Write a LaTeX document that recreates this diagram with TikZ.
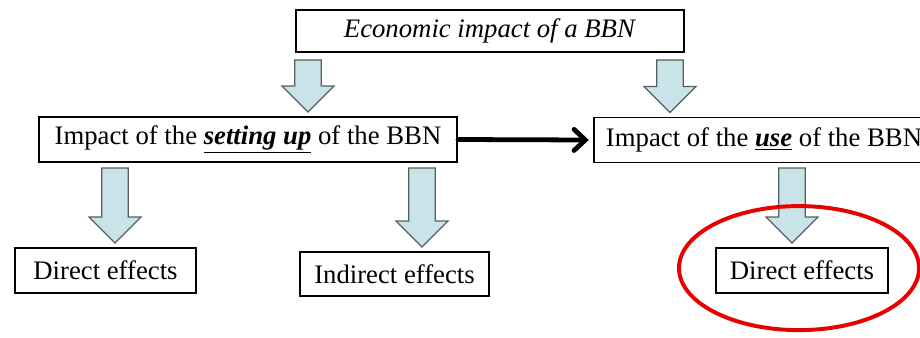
\documentclass[tikz,border=0pt]{standalone}
\usepackage{fontspec}
\setmainfont{Liberation Serif}
\usepackage{tikz}
\usetikzlibrary{calc,arrows.meta}

\tikzset{
  box/.style={draw,line width=1.4pt,fill=white,inner sep=0pt,
    font=\fontsize{19}{22}\selectfont},
  blockarrow/.style={draw=arrowline,line width=0.8pt,fill=arrowfill,
    to path={let \p1=(\tikztostart),\p2=(\tikztotarget) in
      (\x1-0.33cm,\y1) -- (\x1+0.33cm,\y1) -- (\x1+0.33cm,\y2+0.75cm)
      -- (\x1+0.65cm,\y2+0.75cm) -- (\x1,\y2+0.1cm) -- (\x1-0.65cm,\y2+0.75cm)
      -- (\x1-0.33cm,\y2+0.75cm) -- cycle}},
  leadsto/.style={line width=3.4pt,line cap=round,
    -{Straight Barb[length=8pt,width=15pt,line cap=round]}},
  highlight/.style={draw=ringred,line width=2.8pt}
}

\begin{document}
\begin{tikzpicture}[x=0.025cm,y=-0.025cm]
\definecolor{arrowfill}{RGB}{200,228,232}
\definecolor{arrowline}{RGB}{85,95,95}
\definecolor{ringred}{RGB}{232,0,0}
%
\useasboundingbox (0,0) rectangle (920,337);
\clip (0,0) rectangle (920,337);
%
\node[box,minimum width=388*0.025cm,minimum height=42*0.025cm] (impact) at (490,31) {\textit{Economic impact of a BBN}};
\node[box,minimum width=418*0.025cm,minimum height=45*0.025cm] (setup) at (248,139.5) {Impact of the \underline{\textbf{\textit{setting up}}} of the BBN};
\node[box,minimum height=45*0.025cm,inner xsep=0.3cm,anchor=west] (use) at (593,140) {Impact of the \underline{\textbf{\textit{use}}} of the BBN};
\node[box,minimum width=181*0.025cm,minimum height=45*0.025cm] (direct1) at (105.5,270.5) {Direct effects};
\node[box,minimum width=189*0.025cm,minimum height=44*0.025cm] (indirect) at (394.5,274) {Indirect effects};
\node[box,minimum width=172*0.025cm,minimum height=45*0.025cm] (direct2) at (802,270.5) {Direct effects};
%
\coordinate (a1) at (308,60);
\coordinate (a2) at (670,60);
\coordinate (a3) at (115,168);
\coordinate (a4) at (422,168);
\coordinate (a5) at (792,168);
%
\draw[blockarrow] (a1) to (a1 |- setup.north);
\draw[blockarrow] (a2) to (a2 |- use.north);
\draw[blockarrow] (a3) to (a3 |- direct1.north);
\draw[blockarrow] (a4) to (a4 |- indirect.north);
\draw[blockarrow] (a5) to (a5 |- direct2.north);
%
\draw[leadsto] (setup.east) -- ([xshift=-3pt]use.west);
%
\draw[highlight] ([xshift=-3*0.025cm,yshift=0.06cm]direct2.center) ellipse [x radius=3cm,y radius=1.55cm];
%
\end{tikzpicture}
\end{document}
